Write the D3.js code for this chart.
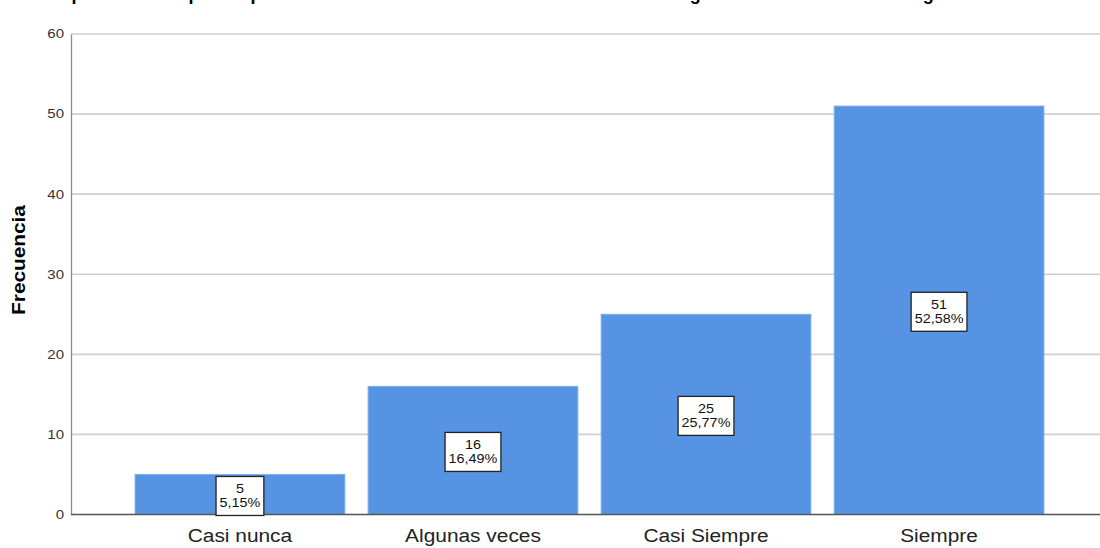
<!DOCTYPE html>
<html>
<head>
<meta charset="utf-8">
<script src="https://cdn.jsdelivr.net/npm/d3@7"></script>
<style>
  body { margin: 0; background: #fff; }
  svg { display: block; font-family: "Liberation Sans", Arial, sans-serif; }
</style>
</head>
<body>
<svg id="chart" width="1100" height="548"></svg>
<script>
const categories = ["Casi nunca", "Algunas veces", "Casi Siempre", "Siempre"];
const counts = [5, 16, 25, 51];
const percents = ["5,15%", "16,49%", "25,77%", "52,58%"];
const yTicks = [0, 10, 20, 30, 40, 50, 60];
const titleText = "Usted percibe bien que los procesos administrativos de la institución sobre la gestión de los recursos en general";

const svg = d3.select("#chart");
const width = 1100;
const margin = { left: 71, top: 34, bottom: 33.5 };
const plotBottom = 548 - margin.bottom;
const stretch = 1.16; // the exported picture is wider than its fonts

const x = d3
  .scaleBand()
  .domain(categories)
  .range([margin.left, 1108])
  .paddingInner(0.1)
  .paddingOuter(0.275);

const y = d3
  .scaleLinear()
  .domain([0, 60])
  .range([plotBottom, margin.top]);

// title sits above the picture, only the descenders show
svg.append("text")
  .attr("x", 16.5)
  .attr("y", -0.5)
  .attr("font-size", 18)
  .attr("font-weight", "bold")
  .attr("fill", "#000")
  .text(titleText);

// grid
svg.append("g")
  .selectAll("line")
  .data(yTicks.filter((d) => d > 0))
  .join("line")
  .attr("x1", margin.left)
  .attr("x2", width)
  .attr("y1", (d) => y(d))
  .attr("y2", (d) => y(d))
  .attr("stroke", "#cfcfcf")
  .attr("stroke-width", 1.6);

// bars
svg.append("g")
  .selectAll("rect")
  .data(categories)
  .join("rect")
  .attr("x", (d) => x(d))
  .attr("y", (d, i) => y(counts[i]))
  .attr("width", x.bandwidth())
  .attr("height", (d, i) => y(0) - y(counts[i]))
  .attr("fill", "#5694e3")
  .attr("stroke", "#7eaeee")
  .attr("stroke-width", 1);

// axes
const yAxisG = svg.append("g")
  .attr("transform", `translate(${margin.left},0)`)
  .call(d3.axisLeft(y).tickValues(yTicks).tickSize(0));
yAxisG.select(".domain").attr("stroke", "#8c8c8c").attr("stroke-width", 1.3);
yAxisG.selectAll(".tick text")
  .attr("x", 0)
  .attr("transform", "translate(-7,0) scale(1.25,1)")
  .attr("font-size", 12)
  .attr("fill", "#333")
  .attr("font-family", "Liberation Sans, Arial, sans-serif");

const xAxisG = svg.append("g")
  .attr("transform", `translate(0,${plotBottom})`)
  .call(d3.axisBottom(x).tickSize(0).tickPadding(15));
xAxisG.select(".domain").remove();
xAxisG.append("line")
  .attr("x1", margin.left)
  .attr("x2", width)
  .attr("stroke", "#555")
  .attr("stroke-width", 1.3);
xAxisG.selectAll(".tick text")
  .attr("transform", `scale(${stretch},1)`)
  .attr("font-size", 18)
  .attr("fill", "#222")
  .attr("font-family", "Liberation Sans, Arial, sans-serif");

// y title
svg.append("text")
  .attr("transform", "translate(25,260) rotate(-90) scale(1.19,1)")
  .attr("text-anchor", "middle")
  .attr("font-size", 17.5)
  .attr("font-weight", "bold")
  .attr("fill", "#000")
  .text("Frecuencia");

// value labels
const labels = svg.append("g")
  .selectAll("g")
  .data(categories)
  .join("g")
  .attr("transform", (d, i) => `translate(${x(d) + x.bandwidth() / 2},${y(counts[i] / 2) + 1.5})`);

labels.each(function (d, i) {
  const g = d3.select(this);
  const rect = g.append("rect").attr("fill", "#fff").attr("stroke", "#222").attr("stroke-width", 1.3);
  const t = g.append("text")
    .attr("transform", "scale(1.2,1)")
    .attr("text-anchor", "middle")
    .attr("font-size", 12)
    .attr("fill", "#111");
  t.append("tspan").attr("x", 0).attr("y", -2.5).text(counts[i]);
  t.append("tspan").attr("x", 0).attr("y", 11).text(percents[i]);
  const w = 1.2 * d3.max(t.selectAll("tspan").nodes(), (n) => n.getComputedTextLength());
  rect.attr("x", -w / 2 - 3.5).attr("y", -19.5).attr("width", w + 7).attr("height", 39);
});
</script>
</body>
</html>
